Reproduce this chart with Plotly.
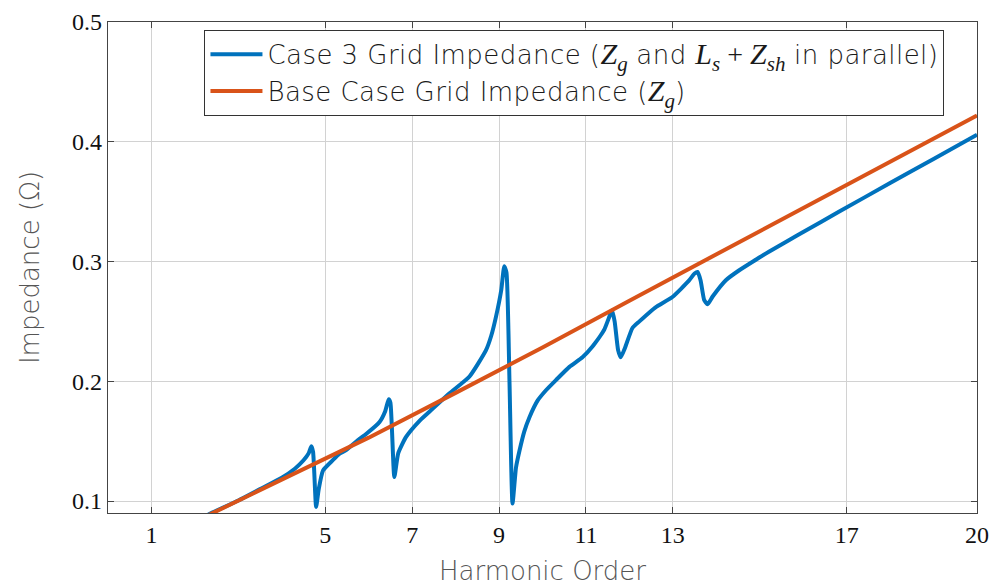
import plotly.graph_objects as go

# Harmonic order vs. grid impedance magnitude (ohm)
harmonic_case3 = [2.0, 2.41, 3.0, 3.5, 4.0, 4.3, 4.5, 4.62, 4.68, 4.72, 4.79, 4.85, 4.95, 5.17,
                  5.33, 5.48, 5.79, 5.94, 6.25, 6.38, 6.46, 6.50, 6.59, 6.68, 6.86, 7.17,
                  7.47, 7.86, 8.32, 8.70, 8.82, 8.93, 9.05, 9.12, 9.17, 9.24, 9.31, 9.39,
                  9.47, 9.58, 9.70, 9.89, 10.08, 10.31, 10.62, 10.92, 11.15, 11.42, 11.55,
                  11.60, 11.66, 11.74, 11.80, 11.90, 12.07, 12.23, 12.46, 12.61, 12.99,
                  13.37, 13.50, 13.57, 13.64, 13.72, 13.80, 13.92, 14.22, 14.52, 14.91,
                  15.21, 15.67, 16.0, 16.82, 18.0, 19.0, 20.0]
impedance_case3 = [0.083, 0.0905, 0.1005, 0.110, 0.1195, 0.127, 0.134, 0.140, 0.1457, 0.141,
                   0.095, 0.110, 0.1256, 0.134, 0.1396, 0.1425, 0.152, 0.156, 0.166, 0.175,
                   0.185, 0.182, 0.120, 0.140, 0.1535, 0.167, 0.177, 0.190, 0.204, 0.226,
                   0.238, 0.254, 0.276, 0.296, 0.291, 0.200, 0.098, 0.128, 0.142, 0.158,
                   0.170, 0.184, 0.1925, 0.201, 0.212, 0.220, 0.229, 0.243, 0.255, 0.259,
                   0.250, 0.226, 0.220, 0.228, 0.2445, 0.250, 0.2575, 0.262, 0.2704, 0.284,
                   0.290, 0.2913, 0.284, 0.268, 0.2643, 0.271, 0.2844, 0.2925, 0.3015,
                   0.3082, 0.3178, 0.3246, 0.3415, 0.3655, 0.3857, 0.4058]

harmonic_base = [2, 4, 6, 8, 10, 12, 14, 16, 18, 20]
impedance_base = [0.0828, 0.1177, 0.1529, 0.1903, 0.2282, 0.2673, 0.3058, 0.3441, 0.383, 0.422]

x_ticks = [1, 5, 7, 9, 11, 13, 17, 20]
y_ticks = [0.1, 0.2, 0.3, 0.4, 0.5]

SANS = "DejaVu Sans, Open Sans, sans-serif"
SERIF = "Liberation Serif, DejaVu Serif, serif"
NBSP = "\u00a0"


def msub(s, sub):
    return (f'<span style="font-family:{SERIF};font-size:30px"><i>{s}</i>'
            f'<sub><i>{sub}</i></sub></span>')


def spaced(text):
    return f'<span style="letter-spacing:0.45px">{text}</span>'


fig = go.Figure()
fig.add_trace(go.Scatter(
    x=harmonic_case3, y=impedance_case3, mode="lines",
    line=dict(color="#0072BD", width=4, shape="spline", smoothing=0.5),
    name=(spaced("Case 3 Grid Impedance (") + msub('Z', 'g') + spaced(" and ")
          + msub('L', 's')
          + f"<span style=\"font-family:{SERIF};font-size:28px\">{NBSP}+{NBSP}</span>"
          + msub('Z', 'sh') + spaced(" in parallel)")),
    legendgroup="a",
))
fig.add_trace(go.Scatter(
    x=harmonic_base, y=impedance_base, mode="lines",
    line=dict(color="#D95319", width=4),
    name=spaced("Base Case Grid Impedance (") + msub('Z', 'g') + spaced(")"),
    legendgroup="b",
))

axis_common = dict(
    showline=True, linecolor="#444", linewidth=1.3, mirror="ticks",
    ticks="inside", ticklen=6, tickcolor="#444",
    showgrid=True, gridcolor="#d2d2d2", gridwidth=1,
    zeroline=False, automargin=False,
    tickfont=dict(family=SERIF, size=24, color="#111"),
    title_font=dict(family=SANS, size=26, color="#555", weight=200),
)

fig.update_xaxes(range=[0, 20], tickvals=x_ticks, title_text="Harmonic Order",
                 title_standoff=14, **axis_common)
fig.update_yaxes(range=[0.09, 0.5], tickvals=y_ticks, tickformat=".1f",
                 title_text="Impedance (Ω)", title_standoff=24, **axis_common)

fig.update_layout(
    width=994, height=587,
    margin=dict(l=108, r=17, t=22, b=74),
    paper_bgcolor="white", plot_bgcolor="white",
    font=dict(family=SANS, size=22, color="#222"),
    legend=dict(
        x=0.111, y=0.984, xanchor="left", yanchor="top",
        bgcolor="white", bordercolor="#333", borderwidth=1,
        font=dict(family=SANS, size=26, color="#1a1a1a", weight=200),
        tracegroupgap=0, itemwidth=52,
    ),
    showlegend=True,
)

fig.write_html("out.html")
